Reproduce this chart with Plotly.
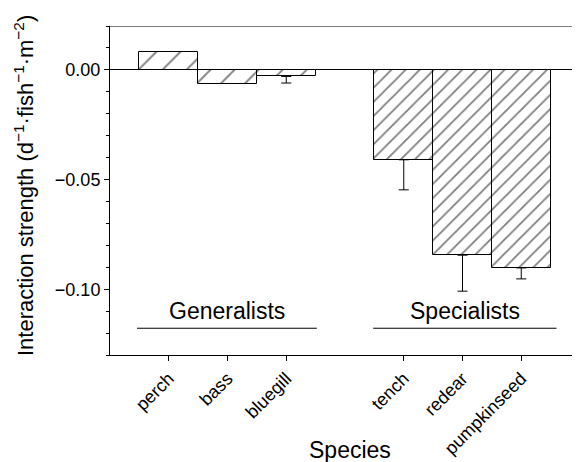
import plotly.graph_objects as go

species = ["perch", "bass", "bluegill", "tench", "redear", "pumpkinseed"]
positions = [1, 2, 3, 5, 6, 7]
values = [0.008, -0.0065, -0.003, -0.041, -0.0845, -0.0903]
err_minus = [None, None, 0.003, 0.0137, 0.0164, 0.005]
groups = ["Generalists", "Specialists"]
group_spans = [(0.46, 3.52), (4.48, 7.6)]
group_y = -0.1178
y_ticks = [0.0, -0.05, -0.10]

font = "Liberation Sans, Arial, Helvetica, sans-serif"

# page body has an 8px default margin; compensate in the figure size
W, H = 572, 454
ML, MT, MB = 102, 18, 107
PW, PH = W - ML, H - MT - MB

fig = go.Figure()
fig.add_trace(go.Bar(
    x=positions, y=values, width=1.0,
    marker=dict(
        color="white",
        line=dict(color="black", width=1),
        pattern=dict(shape="/", size=[17, 17, 17, 10, 10, 10],
                     solidity=[0.11, 0.11, 0.11, 0.18, 0.18, 0.18],
                     fgcolor="black", bgcolor="white"),
    ),
    showlegend=False,
))

# one-sided (downward) error bars only where they exist
eb = [(p, v, e) for p, v, e in zip(positions, values, err_minus) if e is not None]
fig.add_trace(go.Scatter(
    x=[p for p, _, _ in eb], y=[v for _, v, _ in eb], mode="markers",
    marker=dict(size=1, opacity=0),
    error_y=dict(type="data", symmetric=False, array=[0] * len(eb),
                 arrayminus=[e for _, _, e in eb], color="black", thickness=1, width=5),
    showlegend=False, hoverinfo="skip",
))

for name, (x0, x1) in zip(groups, group_spans):
    fig.add_shape(type="line", x0=x0, x1=x1, y0=group_y, y1=group_y,
                  xref="x", yref="y", line=dict(color="black", width=1))
    fig.add_annotation(x=(x0 + x1) / 2, y=group_y, xref="x", yref="y",
                       text=name, showarrow=False, yanchor="bottom", yshift=2,
                       font=dict(family=font, size=23, color="black"))

# top frame line
fig.add_shape(type="line", x0=0, x1=1, y0=0.02, y1=0.02, xref="paper", yref="y",
              line=dict(color="black", width=1))

# axis titles (pixel targets converted to paper coords)
fig.add_annotation(x=(350 - 110) / PW, y=(355 - 450) / PH, xref="paper", yref="paper",
                   text="Species", showarrow=False, xanchor="center", yanchor="middle",
                   font=dict(family=font, size=23, color="black"))
fig.add_annotation(x=(24 - 110) / PW, y=(355 - 186) / PH, xref="paper", yref="paper",
                   text="Interaction strength (d<sup>\u22121</sup>\u00b7fish<sup>\u22121</sup>\u00b7m<sup>\u22122</sup>)",
                   textangle=-90, showarrow=False, xanchor="center", yanchor="middle",
                   font=dict(family=font, size=22, color="black"))

fig.update_layout(
    width=W, height=H,
    margin=dict(l=ML, r=0, t=MT, b=MB),
    paper_bgcolor="white", plot_bgcolor="white",
    font=dict(family=font, color="black"),
    bargap=0,
)
fig.update_xaxes(
    range=[0, 8], tickvals=positions, ticktext=species, tickangle=-45,
    showline=True, linecolor="black", linewidth=1, automargin=False,
    ticks="outside", ticklen=5, tickcolor="black", showgrid=False, zeroline=False,
    tickfont=dict(family=font, size=18, color="black"),
)
fig.update_yaxes(
    range=[-0.13, 0.02], tickvals=y_ticks, tickformat=".2f", ticksuffix="\u2009\u2009",
    showline=True, linecolor="black", linewidth=1, automargin=False,
    ticks="outside", ticklen=5, tickcolor="black", showgrid=False,
    zeroline=True, zerolinecolor="black", zerolinewidth=1,
    minor=dict(dtick=0.01, ticks="outside", ticklen=3, tickcolor="black"),
    tickfont=dict(family=font, size=18, color="black"),
)

fig.write_html("out.html")
